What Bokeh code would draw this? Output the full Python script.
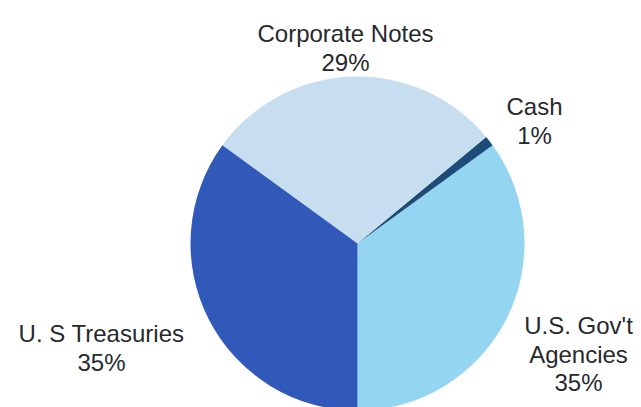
import math
from bokeh.plotting import figure
from bokeh.models import Range1d, ColumnDataSource
from bokeh.core.properties import value
from bokeh.embed import file_html
from bokeh.resources import INLINE

# ---- data ----
categories = ["U.S. Gov't Agencies", "Cash", "Corporate Notes", "U. S Treasuries"]
percents = [35, 1, 29, 35]
colors = ["#94d5f2", "#1d4c78", "#c7ddf0", "#3159ba"]
label_lines = [["U.S. Gov't", "Agencies"], ["Cash"], ["Corporate Notes"], ["U. S Treasuries"]]

W, H = 641, 407
p = figure(width=W, height=H, output_backend="svg", toolbar_location=None,
           x_range=Range1d(0, W), y_range=Range1d(0, H), min_border=0)
p.axis.visible = False
p.grid.visible = False
p.outline_line_color = None
p.background_fill_color = "white"
p.border_fill_color = "white"

# pie geometry (screen-ish layout)
cx, cy, r = 357, H - 243, 167
start = -math.pi / 2
total = float(sum(percents))
starts, ends = [], []
acc = start
for v in percents:
    starts.append(acc)
    acc += v / total * 2 * math.pi
    ends.append(acc)

src = ColumnDataSource(dict(start=starts, end=ends, color=colors, cat=categories))
p.wedge(x=cx, y=cy, radius=r, start_angle="start", end_angle="end",
        fill_color="color", line_color=None, source=src)

# label placement (layout): center x and first-line baseline in image pixels
label_pos = [(578, 325), (534, 106), (345, 33), (101, 333)]
line_h = 28.5
tx, ty, tt = [], [], []
for lines, pct, (x0, y0) in zip(label_lines, percents, label_pos):
    all_lines = lines + [f"{pct}%"]
    for i, s in enumerate(all_lines):
        tx.append(x0)
        ty.append(H - (y0 + i * line_h))
        tt.append(s)

p.text(x=tx, y=ty, text=tt, text_align="center", text_baseline="alphabetic",
       text_font=value("Liberation Sans"), text_font_size="24px",
       text_color="#262a2e")

open("out.html", "w").write(file_html(p, INLINE))
